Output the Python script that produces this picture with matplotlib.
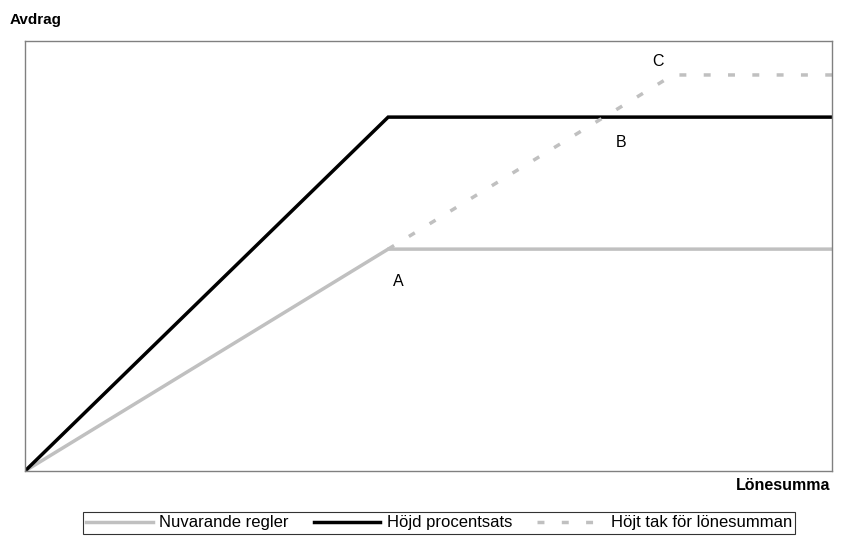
import matplotlib
matplotlib.use("Agg")
import matplotlib.pyplot as plt

plt.rcParams['font.family'] = ['Liberation Sans', 'DejaVu Sans']

# Data (arbitrary units, x: Lönesumma 0-100, y: Avdrag 0-100)
x_nuv = [0, 45, 100]
y_nuv = [0, 51.6, 51.6]
x_hojd = [0, 45, 100]
y_hojd = [0, 82.3, 82.3]
x_tak = [45, 80.3, 100]
y_tak = [51.6, 92.1, 92.1]
series_labels = ["Nuvarande regler", "Höjd procentsats", "Höjt tak för lönesumman"]
point_labels = ["A", "B", "C"]
point_x = [46.3, 73.8, 78.5]
point_y = [44.0, 76.3, 95.3]

fig = plt.figure(figsize=(8.45, 5.4), dpi=100)
ax = fig.add_axes([25/845, 1-471/540, 807/845, 430/540])
ax.set_xlim(0, 100)
ax.set_ylim(0, 100)

l1, = ax.plot(x_nuv, y_nuv, color='#c0c0c0', lw=2.5, solid_joinstyle='miter', label=series_labels[0])
l2, = ax.plot(x_hojd, y_hojd, color='black', lw=2.5, solid_joinstyle='miter', label=series_labels[1])
l3, = ax.plot(x_tak, y_tak, color='#c0c0c0', lw=2.5, linestyle=(0, (2, 5)), label=series_labels[2])

for s, px, py in zip(point_labels, point_x, point_y):
    ax.text(px, py, s, fontsize=11.5, ha='center', va='center', color='black')

ax.set_xticks([])
ax.set_yticks([])
for sp in ax.spines.values():
    sp.set_color('#808080')
    sp.set_linewidth(1.0)

fig.text(10/845, 1-20/540, "Avdrag", fontsize=11, fontweight='bold', ha='left', va='center')
fig.text(830/845, 1-486/540, "Lönesumma", fontsize=11.5, fontweight='bold', ha='right', va='center')

leg = fig.legend(handles=[l1, l2, l3], loc='center', bbox_to_anchor=(439/845, 1-523/540),
                 ncol=3, frameon=True, fancybox=False, fontsize=12, handlelength=4.0,
                 handletextpad=0.4, columnspacing=1.5, borderpad=0.2, borderaxespad=0)
leg.get_frame().set_edgecolor('black')
leg.get_frame().set_linewidth(0.8)

fig.savefig("out.png", dpi=100)
